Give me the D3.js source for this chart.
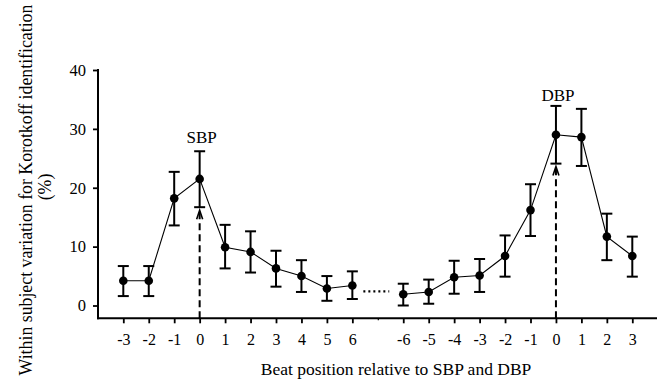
<!DOCTYPE html>
<html>
<head>
<meta charset="utf-8">
<script src="https://cdn.jsdelivr.net/npm/d3@7"></script>
<style>
  html, body { margin: 0; padding: 0; background: #fff; }
  svg { display: block; font-family: "Liberation Serif", "Times New Roman", serif; }
</style>
</head>
<body>
<svg id="chart" width="665" height="383"></svg>
<script>
// ---- data ----
const sbpBeats = [-3, -2, -1, 0, 1, 2, 3, 4, 5, 6];
const sbpMean  = [4.2, 4.2, 18.2, 21.5, 9.9, 9.1, 6.3, 5.0, 2.9, 3.4];
const sbpUpper = [6.7, 6.7, 22.7, 26.2, 13.7, 12.6, 9.3, 7.7, 5.0, 5.8];
const sbpLower = [1.6, 1.6, 13.6, 16.7, 6.3, 5.6, 3.2, 2.3, 0.8, 1.1];

const dbpBeats = [-6, -5, -4, -3, -2, -1, 0, 1, 2, 3];
const dbpMean  = [1.9, 2.3, 4.8, 5.1, 8.4, 16.2, 29.0, 28.6, 11.7, 8.4];
const dbpUpper = [3.7, 4.4, 7.6, 7.9, 11.9, 20.6, 33.9, 33.4, 15.6, 11.7];
const dbpLower = [0.0, 0.3, 2.0, 2.3, 4.9, 11.8, 24.1, 23.7, 7.7, 4.9];

const gapLevel = 2.4;           // dotted break between the two panels
const yTicks = [0, 10, 20, 30, 40];
const xTitle = "Beat position relative to SBP and DBP";
const yTitle1 = "Within subject variation for Korotkoff identification";
const yTitle2 = "(%)";

// ---- layout ----
const svg = d3.select("#chart");
const xLeft = 123.3, xRight = 632.3;
const yBottom = 305.5, yTop = 70;
const axisY = 318.3, axisX = 98;
const axisEnd = 657;

const sbpKeys = sbpBeats.map(b => "S" + b);
const dbpKeys = dbpBeats.map(b => "D" + b);
const keys = [...sbpKeys, "gap", ...dbpKeys];
const labelOf = k => k === "gap" ? "" : k.slice(1);

const x = d3.scalePoint().domain(keys).range([xLeft, xRight]);
const y = d3.scaleLinear().domain([0, 40]).range([yBottom, yTop]);

// ---- axes ----
const xAxis = svg.append("g")
  .attr("transform", `translate(0,${axisY})`)
  .call(d3.axisBottom(x).tickSize(5).tickSizeOuter(0).tickPadding(10).tickFormat(labelOf));
xAxis.attr("font-family", null);
xAxis.select(".domain").remove();
xAxis.append("line").attr("x1", axisX - 1).attr("x2", axisEnd).attr("stroke", "#000").attr("stroke-width", 2);
xAxis.selectAll(".tick line").attr("stroke", "#000").attr("stroke-width", 1.8);
xAxis.selectAll(".tick").filter(d => d === "gap").select("line").attr("y2", 2).attr("stroke-width", 1.2);
xAxis.selectAll(".tick text").attr("font-size", 16).attr("fill", "#000");

const yAxis = svg.append("g")
  .attr("transform", `translate(${axisX},0)`)
  .call(d3.axisLeft(y).tickValues(yTicks).tickSize(5).tickSizeOuter(0).tickPadding(7));
yAxis.attr("font-family", null);
yAxis.select(".domain").remove();
yAxis.append("line").attr("y1", y(40) - 1).attr("y2", axisY + 1).attr("stroke", "#000").attr("stroke-width", 2);
yAxis.selectAll(".tick line").attr("stroke", "#000").attr("stroke-width", 1.8);
yAxis.selectAll(".tick text").attr("font-size", 16.5).attr("fill", "#000");

// ---- titles ----
svg.append("text")
  .attr("x", 396).attr("y", 375)
  .attr("text-anchor", "middle").attr("font-size", 17.5).attr("fill", "#000")
  .text(xTitle);

const yt = svg.append("g").attr("transform", "translate(0,190) rotate(-90)");
yt.append("text").attr("x", 0).attr("y", 32)
  .attr("text-anchor", "middle").attr("font-size", 17.8).attr("fill", "#000").text(yTitle1);
yt.append("text").attr("x", 3).attr("y", 51)
  .attr("text-anchor", "middle").attr("font-size", 17.8).attr("fill", "#000").text(yTitle2);

// ---- series ----
function drawSeries(beatKeys, mean, upper, lower) {
  const pts = beatKeys.map((k, i) => ({ k, m: mean[i], hi: upper[i], lo: lower[i] }));
  const g = svg.append("g");
  g.append("path")
    .datum(pts)
    .attr("fill", "none").attr("stroke", "#000").attr("stroke-width", 1.1)
    .attr("d", d3.line().x(d => x(d.k)).y(d => y(d.m)));
  const eb = g.selectAll(".eb").data(pts).enter().append("g").attr("class", "eb")
    .attr("stroke", "#000").attr("stroke-width", 2);
  eb.append("line").attr("x1", d => x(d.k)).attr("x2", d => x(d.k))
    .attr("y1", d => y(d.hi)).attr("y2", d => y(d.lo));
  eb.append("line").attr("x1", d => x(d.k) - 5.5).attr("x2", d => x(d.k) + 5.5)
    .attr("y1", d => y(d.hi)).attr("y2", d => y(d.hi));
  eb.append("line").attr("x1", d => x(d.k) - 5.5).attr("x2", d => x(d.k) + 5.5)
    .attr("y1", d => y(d.lo)).attr("y2", d => y(d.lo));
  g.selectAll("circle").data(pts).enter().append("circle")
    .attr("cx", d => x(d.k)).attr("cy", d => y(d.m)).attr("r", 4.3).attr("fill", "#000");
  return pts;
}
drawSeries(sbpKeys, sbpMean, sbpUpper, sbpLower);
drawSeries(dbpKeys, dbpMean, dbpUpper, dbpLower);

// dotted break
svg.append("line")
  .attr("x1", x("S6") + 11).attr("x2", x("D-6") - 14)
  .attr("y1", y(gapLevel)).attr("y2", y(gapLevel))
  .attr("stroke", "#000").attr("stroke-width", 2.2).attr("stroke-dasharray", "2,3");

// ---- markers: dashed arrows + labels ----
function marker(key, lo, label, labelVal) {
  const cx = x(key);
  const tip = y(lo) + 3;
  svg.append("line").attr("x1", cx).attr("x2", cx).attr("y1", axisY).attr("y2", tip + 2)
    .attr("stroke", "#000").attr("stroke-width", 2).attr("stroke-dasharray", "7,4");
  svg.append("path")
    .attr("d", `M${cx - 3},${tip + 9} L${cx},${tip} L${cx + 3},${tip + 9}`)
    .attr("fill", "none").attr("stroke", "#000").attr("stroke-width", 1.6);
  svg.append("text").attr("x", cx + 2).attr("y", y(labelVal))
    .attr("text-anchor", "middle").attr("font-size", 17).attr("fill", "#000").text(label);
}
marker("S0", sbpLower[3], "SBP", 27.6);
marker("D0", dbpLower[6], "DBP", 34.8);
</script>
</body>
</html>
